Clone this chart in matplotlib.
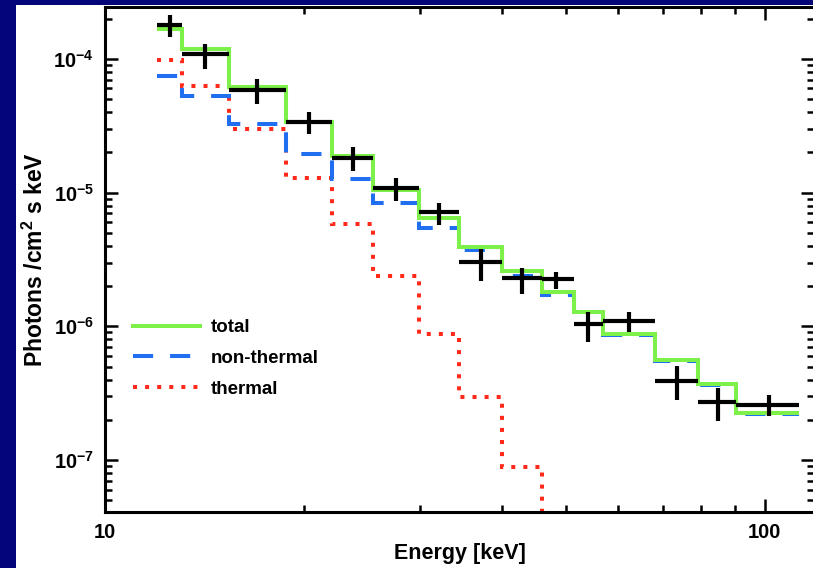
import numpy as np
import matplotlib
matplotlib.use("Agg")
import matplotlib.pyplot as plt
from matplotlib.patches import Rectangle
from matplotlib.ticker import FixedLocator, NullFormatter

plt.rcParams['font.family'] = ['Liberation Sans', 'DejaVu Sans']
plt.rcParams['font.weight'] = 'bold'
plt.rcParams['mathtext.fontset'] = 'custom'
plt.rcParams['mathtext.rm'] = 'Liberation Sans:bold'
plt.rcParams['mathtext.bf'] = 'Liberation Sans:bold'
plt.rcParams['mathtext.default'] = 'rm'

# energy bin edges [keV]
edges = [12.0, 13.1, 15.4, 18.8, 22.1, 25.5, 29.9, 34.4, 40.0, 46.0,
         51.3, 56.8, 68.1, 79.1, 90.4, 112.6]
# bin centres of the data points
centers = [12.55, 14.2, 17.0, 20.4, 23.75, 27.6, 32.1, 37.1, 42.85, 48.2,
           53.9, 62.2, 73.5, 84.9, 101.4]

# observed flux with lower/upper ends of error bars
flux = [1.80e-4, 1.09e-4, 5.87e-5, 3.39e-5, 1.82e-5, 1.09e-5, 7.10e-6, 3.01e-6,
        2.28e-6, 2.24e-6, 1.04e-6, 1.09e-6, 3.89e-7, 2.71e-7, 2.57e-7]
flux_lo = [1.46e-4, 8.42e-5, 4.61e-5, 2.75e-5, 1.44e-5, 8.71e-6, 5.68e-6, 2.20e-6,
           1.73e-6, 1.89e-6, 7.60e-7, 9.02e-7, 2.81e-7, 1.95e-7, 2.13e-7]
flux_hi = [2.13e-4, 1.29e-4, 7.09e-5, 4.02e-5, 2.20e-5, 1.29e-5, 8.41e-6, 3.76e-6,
           2.75e-6, 2.53e-6, 1.27e-6, 1.27e-6, 5.03e-7, 3.44e-7, 3.05e-7]

# model components
total = [1.66e-4, 1.19e-4, 6.2e-5, 3.39e-5, 1.89e-5, 1.05e-5, 6.5e-6, 3.95e-6,
         2.57e-6, 1.80e-6, 1.29e-6, 8.7e-7, 5.57e-7, 3.69e-7, 2.24e-7]
nonthermal = [7.4e-5, 5.3e-5, 3.27e-5, 1.95e-5, 1.27e-5, 8.4e-6, 5.48e-6, 3.69e-6,
              2.36e-6, 1.70e-6, 1.27e-6, 8.6e-7, 5.5e-7, 3.65e-7, 2.2e-7]
thermal = [9.8e-5, 6.25e-5, 3.0e-5, 1.29e-5, 5.87e-6, 2.36e-6, 8.7e-7, 2.95e-7,
           8.87e-8, 1.5e-8]

fig = plt.figure(figsize=(8.13, 5.68), dpi=100)
fig.patch.set_facecolor('#05057a')
fig.patches.append(Rectangle((16 / 813, 0), 1, 563 / 568, transform=fig.transFigure,
                             facecolor='white', edgecolor='none', zorder=-5))

ax = fig.add_axes([105 / 813, 56 / 568, 709 / 813, 505 / 568])
ax.set_xscale('log')
ax.set_yscale('log')

lw = 2.9
ax.stairs(thermal, edges[:len(thermal) + 1], baseline=None, color='#ff2a1a',
          lw=lw, linestyle=(0, (1, 2)), label='thermal', zorder=2)
ax.stairs(nonthermal, edges, baseline=None, color='#1f6ff0', lw=lw,
          linestyle=(0, (5, 4.2)), label='non-thermal', zorder=3)
ax.stairs(total, edges, baseline=None, color='#7df04a', lw=lw,
          label='total', zorder=4)

flux = np.array(flux)
yerr = [flux - np.array(flux_lo), np.array(flux_hi) - flux]
xerr = [np.array(centers) - np.array(edges[:-1]), np.array(edges[1:]) - np.array(centers)]
ax.errorbar(centers, flux, xerr=xerr, yerr=yerr, fmt='none', ecolor='black',
            elinewidth=3.0, capsize=0, zorder=5)

ax.set_xlim(10, 118.7)
ax.set_ylim(4.09e-8, 2.44e-4)

ax.xaxis.set_major_locator(FixedLocator([10, 100]))
ax.set_xticklabels(['10', '100'])
ax.xaxis.set_minor_locator(FixedLocator([20, 30, 40, 50, 60, 70, 80, 90]))
ax.xaxis.set_minor_formatter(NullFormatter())
ax.yaxis.set_major_locator(FixedLocator([1e-7, 1e-6, 1e-5, 1e-4]))
ax.set_yticklabels([r'$10^{-7}$', r'$10^{-6}$', r'$10^{-5}$', r'$10^{-4}$'])
ax.yaxis.set_minor_locator(FixedLocator(
    [m * 10.0 ** e for e in range(-8, -3) for m in range(2, 10)]))
ax.yaxis.set_minor_formatter(NullFormatter())

ax.tick_params(which='both', direction='in', top=True, right=True, width=1.8,
               labelsize=14.5, colors='black')
ax.tick_params(which='major', length=9.5, pad=8)
ax.tick_params(which='minor', length=5)
for sp in ax.spines.values():
    sp.set_linewidth(2.2)

ax.set_xlabel('Energy [keV]', fontsize=15.5, fontweight='bold', labelpad=1)
ax.set_ylabel(r'Photons /cm$^{2}$ s keV', fontsize=16.5, fontweight='bold', labelpad=4)

handles, labels = ax.get_legend_handles_labels()
order = [2, 1, 0]
ax.legend([handles[i] for i in order], [labels[i] for i in order],
          loc='upper left', bbox_to_anchor=(0.015, 0.415), frameon=False,
          handlelength=3.6, handletextpad=0.55, labelspacing=0.72,
          prop={'size': 13.5, 'weight': 'bold'})

fig.savefig('out.png', dpi=100, facecolor=fig.get_facecolor())
